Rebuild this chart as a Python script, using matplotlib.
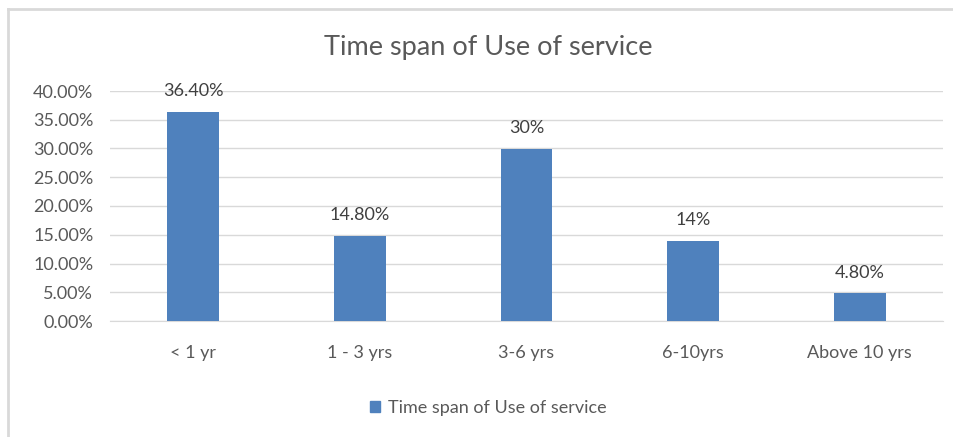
import matplotlib.pyplot as plt
from matplotlib.patches import Rectangle
from matplotlib.ticker import FuncFormatter

categories = ['< 1 yr', '1 - 3 yrs', '3-6 yrs', '6-10yrs', 'Above 10 yrs']
shares = [0.364, 0.148, 0.30, 0.14, 0.048]
value_labels = ['36.40%', '14.80%', '30%', '14%', '4.80%']
series_name = 'Time span of Use of service'

plt.rcParams['font.family'] = ['Lato', 'DejaVu Sans']
text_grey = '#595959'
bar_blue = '#4f81bd'

fig = plt.figure(figsize=(9.54, 4.37), dpi=100)
fig.patch.set_facecolor('white')

# outer chart frame (left and top edges)
fig.add_artist(plt.Line2D([8 / 954, 8 / 954], [0, 1 - 9 / 437], transform=fig.transFigure,
                          color='#d9d9d9', lw=2))
fig.add_artist(plt.Line2D([8 / 954, 1], [1 - 9 / 437, 1 - 9 / 437], transform=fig.transFigure,
                          color='#d9d9d9', lw=2))

ax = fig.add_axes([110 / 954, 1 - 321 / 437, 833 / 954, 230 / 437])
x = range(len(categories))
bars = ax.bar(x, shares, width=0.31, color=bar_blue, label=series_name, zorder=3)

ax.set_xlim(-0.5, len(categories) - 0.5)
ax.set_ylim(0, 0.40)
ax.set_yticks([i * 0.05 for i in range(9)])
ax.yaxis.set_major_formatter(FuncFormatter(lambda v, p: f'{v * 100:.2f}%'))
ax.set_xticks(list(x))
ax.set_xticklabels(categories)
ax.tick_params(axis='both', length=0, labelsize=13, colors=text_grey)
ax.tick_params(axis='x', pad=17)
ax.tick_params(axis='y', pad=12)
ax.grid(axis='y', color='#d9d9d9', lw=1, zorder=0)
for side in ['left', 'right', 'top']:
    ax.spines[side].set_visible(False)
ax.spines['bottom'].set_color('#d9d9d9')

for rect, txt in zip(bars, value_labels):
    ax.annotate(txt, (rect.get_x() + rect.get_width() / 2, rect.get_height()),
                xytext=(0, 9), textcoords='offset points', ha='center', va='bottom',
                fontsize=13, color='#404040')

fig.text(488 / 954, 1 - 47 / 437, series_name, ha='center', va='center',
         fontsize=19.5, color=text_grey)

fig.legend(handles=[Rectangle((0, 0), 1, 1, color=bar_blue)], labels=[series_name],
           loc='center', bbox_to_anchor=(488 / 954, 1 - 408 / 437), frameon=False,
           fontsize=13, labelcolor=text_grey, handlelength=0.6, handleheight=0.6,
           handletextpad=0.4)

fig.savefig('out.png', dpi=100)
